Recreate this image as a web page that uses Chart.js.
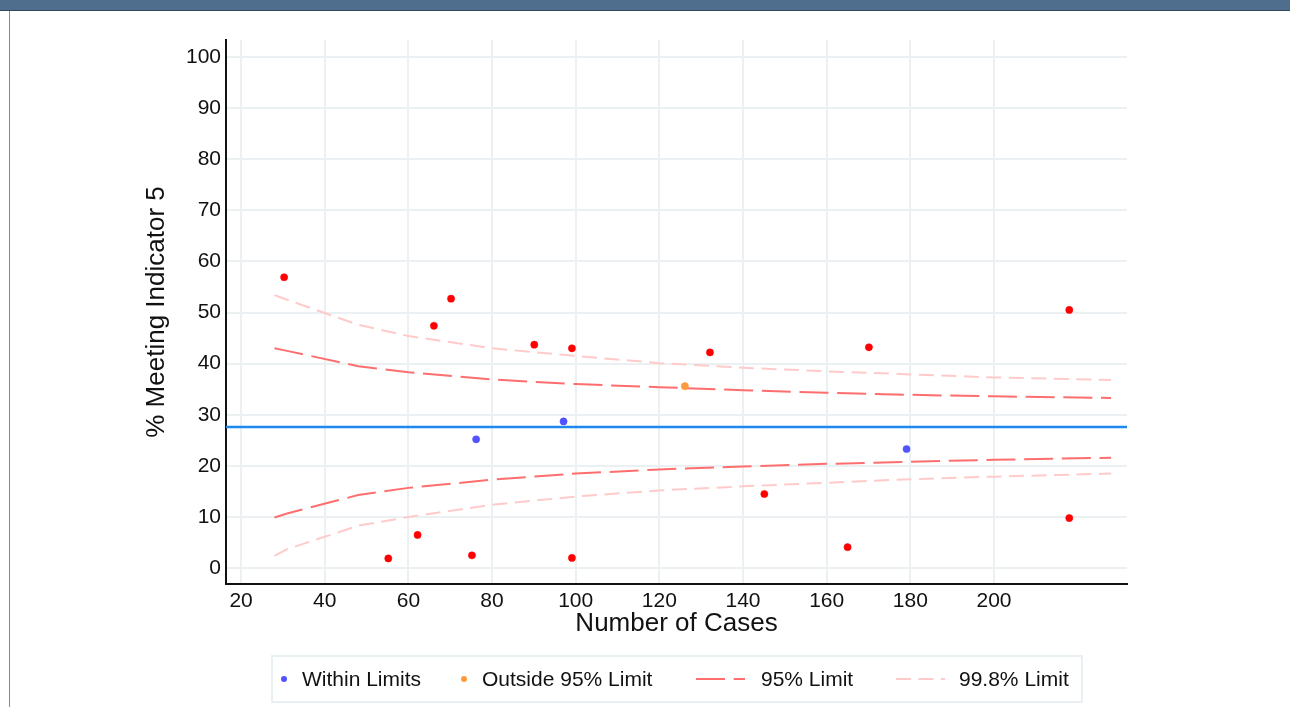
<!DOCTYPE html>
<html>
<head>
<meta charset="utf-8">
<script src="https://cdn.jsdelivr.net/npm/chart.js@4.4.1/dist/chart.umd.min.js"></script>
<style>
  html, body { margin: 0; padding: 0; background: #fff; width: 1290px; height: 707px; overflow: hidden; font-family: "Liberation Sans", Arial, sans-serif; }
  #header { position: absolute; left: 0; top: 0; width: 1290px; height: 10px; background: #4f6e8d; border-bottom: 1px solid #34475a; }
  #leftBorder { position: absolute; left: 9px; top: 11px; width: 1px; height: 696px; background: #8a8a8a; }
  #wrap { position: absolute; left: 0; top: 0; width: 1290px; height: 707px; }
  #legend { position: absolute; left: 271px; top: 655px; width: 808px; height: 44px; border: 2px solid #e9f0f3; box-sizing: content-box; }
  .item { position: absolute; top: 0; height: 44px; display: flex; align-items: center; font-size: 21px; color: #111; white-space: nowrap; }
  .item svg { display: block; }
</style>
</head>
<body>
<div id="header"></div>
<div id="leftBorder"></div>
<div id="wrap"><canvas id="c" width="1290" height="707"></canvas></div>
<div id="legend"></div>
<script>
// ---- data ----
const withinX = [76.2, 97.1, 179.1];
const withinY = [25.2, 28.7, 23.3];

const outside95X = [126.1];
const outside95Y = [35.6];

const outside998X = [30.3, 55.2, 62.2, 66.1, 70.2, 75.2, 90.1, 99.1, 99.1, 132.1, 145.1, 165.0, 170.1, 218.0, 218.0];
const outside998Y = [56.9, 1.9, 6.5, 47.4, 52.7, 2.5, 43.7, 43.0, 2.0, 42.2, 14.5, 4.1, 43.2, 50.5, 9.8];

const meanValue = 27.6;

const limitX      = [28, 31, 48, 60, 80, 100, 120, 140, 160, 180, 200, 228];
const upper95     = [43.0, 42.5, 39.5, 38.3, 36.9, 36.0, 35.4, 34.8, 34.3, 33.9, 33.6, 33.3];
const lower95     = [9.9, 10.7, 14.3, 15.7, 17.3, 18.5, 19.3, 19.9, 20.4, 20.8, 21.2, 21.6];
const upper998    = [53.4, 52.5, 47.6, 45.4, 43.0, 41.5, 40.1, 39.2, 38.5, 37.9, 37.3, 36.8];
const lower998    = [2.4, 3.7, 8.3, 10.0, 12.4, 14.0, 15.2, 16.0, 16.7, 17.4, 17.9, 18.5];

const xRange = [16.4, 231.8];
const yRange = [-3.1, 103.3];
const xTicks = [20, 40, 60, 80, 100, 120, 140, 160, 180, 200];
const yTicks = [0, 10, 20, 30, 40, 50, 60, 70, 80, 90, 100];

const xTitle = 'Number of Cases';
const yTitle = '% Meeting Indicator 5';
const labels = {
  within: 'Within Limits',
  out95: 'Outside 95% Limit',
  out998: 'Outside 99.8% Limit',
  lim95: '95% Limit',
  lim998: '99.8% Limit',
  mean: 'Mean'
};

// ---- styles ----
const C_WITHIN = '#5252ff';
const C_OUT95 = '#ff9a3c';
const C_OUT998 = '#ff0000';
const C_LIM95 = '#ff6e6e';
const C_LIM998 = '#ffcaca';
const C_MEAN = '#1e88f0';
const DASH95 = [29, 8.7];
const DASH998 = [15, 7.5];

const pts = (xs, ys) => xs.map((x, i) => ({ x: x, y: ys[i] }));

const FONT = '"Liberation Sans", Arial, sans-serif';

function pointSet(label, xs, ys, color) {
  return { type: 'scatter', label, data: pts(xs, ys), backgroundColor: color, borderColor: color,
           pointRadius: 3.6, pointHoverRadius: 3.6, borderWidth: 0.5, showLine: false };
}
function lineSet(label, xs, ys, color, dash, width) {
  return { type: 'line', label, data: pts(xs, ys), borderColor: color, backgroundColor: color,
           borderDash: dash, borderWidth: width, pointRadius: 0, tension: 0, fill: false };
}

const datasets = [
  pointSet(labels.within, withinX, withinY, C_WITHIN),
  pointSet(labels.out95, outside95X, outside95Y, C_OUT95),
  pointSet(labels.out998, outside998X, outside998Y, C_OUT998),
  lineSet(labels.mean, xRange, [meanValue, meanValue], C_MEAN, [], 2.5),
  lineSet(labels.lim95, limitX, upper95, C_LIM95, DASH95, 2),
  lineSet(labels.lim95, limitX, lower95, C_LIM95, DASH95, 2),
  lineSet(labels.lim998, limitX, upper998, C_LIM998, DASH998, 2),
  lineSet(labels.lim998, limitX, lower998, C_LIM998, DASH998, 2)
];

const gridColor = '#ebf0f2';

new Chart(document.getElementById('c'), {
  type: 'scatter',
  data: { datasets },
  options: {
    responsive: false,
    animation: false,
    events: [],
    layout: { padding: { left: 137, top: 40, right: 163, bottom: 64 } },
    plugins: { legend: { display: false }, tooltip: { enabled: false } },
    scales: {
      x: {
        type: 'linear', min: xRange[0], max: xRange[1],
        afterBuildTicks: s => { s.ticks = xTicks.map(v => ({ value: v })); },
        afterFit: s => { s.height = 59; },
        grid: { color: gridColor, lineWidth: 2, drawTicks: false },
        border: { display: true, color: '#111', width: 2 },
        ticks: { font: { family: FONT, size: 21 }, color: '#111', padding: 5, maxRotation: 0, autoSkip: false },
        title: { display: true, text: xTitle, font: { family: FONT, size: 26 }, color: '#111', padding: { top: 4, bottom: 4 } }
      },
      y: {
        type: 'linear', min: yRange[0], max: yRange[1],
        afterBuildTicks: s => { s.ticks = yTicks.map(v => ({ value: v })); },
        afterFit: s => { s.width = 89; },
        grid: { color: gridColor, lineWidth: 2, drawTicks: false },
        border: { display: true, color: '#111', width: 2 },
        ticks: { font: { family: FONT, size: 21 }, color: '#111', padding: 5, autoSkip: false },
        title: { display: true, text: yTitle, font: { family: FONT, size: 26 }, color: '#111', padding: { top: 4, bottom: 4 } }
      }
    }
  }
});

// ---- HTML legend ----
const legend = document.getElementById('legend');
function dotSvg(color) {
  return '<svg width="8" height="8"><circle cx="4" cy="4" r="3" fill="' + color + '"/></svg>';
}
function lineSvg(color, dash) {
  return '<svg width="49" height="6"><line x1="0" y1="3" x2="49" y2="3" stroke="' + color + '" stroke-width="2" stroke-dasharray="' + dash.join(',') + '"/></svg>';
}
const legendItems = [
  { left: 7,   marker: dotSvg(C_WITHIN), gap: 14, text: labels.within },
  { left: 187, marker: dotSvg(C_OUT95), gap: 14, text: labels.out95 },
  { left: 423, marker: lineSvg(C_LIM95, DASH95), gap: 16, text: labels.lim95 },
  { left: 623, marker: lineSvg(C_LIM998, DASH998), gap: 14, text: labels.lim998 }
];
legendItems.forEach(it => {
  const d = document.createElement('div');
  d.className = 'item';
  d.style.left = it.left + 'px';
  d.innerHTML = it.marker + '<span style="margin-left:' + it.gap + 'px">' + it.text + '</span>';
  legend.appendChild(d);
});
</script>
</body>
</html>
